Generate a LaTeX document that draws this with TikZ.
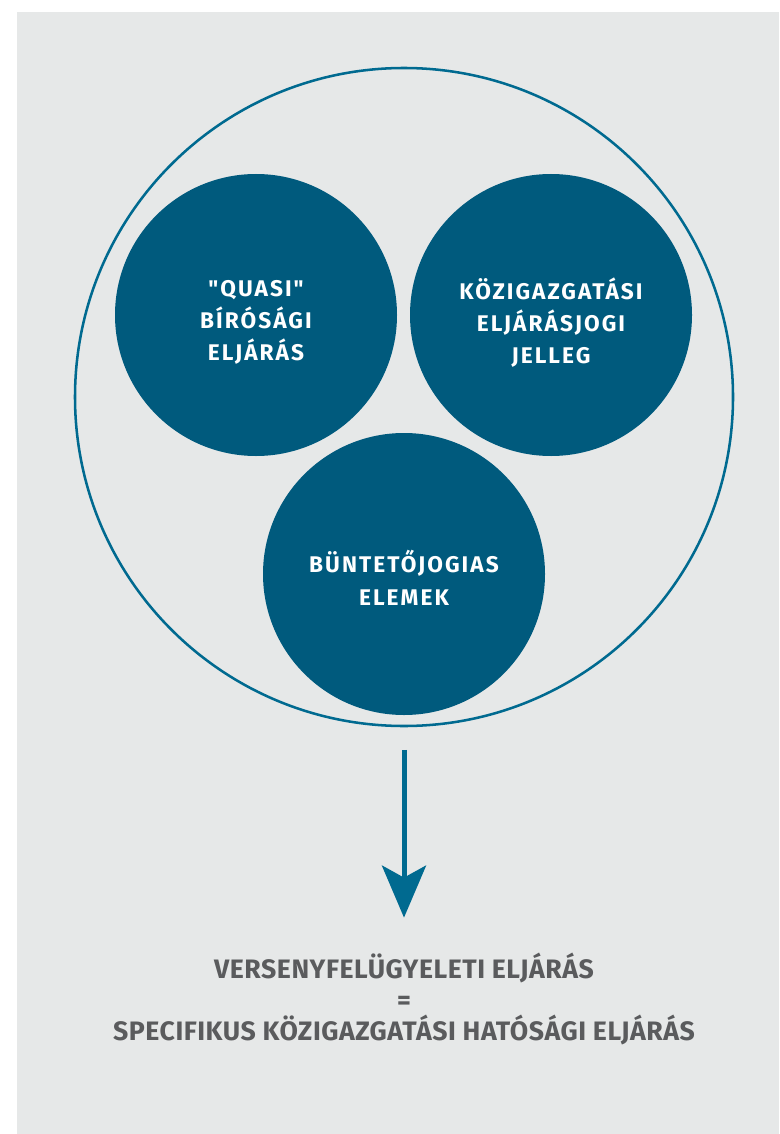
\documentclass[tikz,border=0pt]{standalone}
\usepackage{fontspec}
\setmainfont{Fira Sans}
\newfontfamily\partfont{Fira Sans}[LetterSpace=9]
\newfontfamily\sumfont{Fira Sans}[LetterSpace=2]
\usetikzlibrary{positioning, arrows.meta}
\definecolor{bgGrey}{HTML}{E6E8E8}
\definecolor{petrol}{HTML}{005A7D}
\definecolor{petrolLine}{HTML}{006A90}
\definecolor{txtGrey}{HTML}{5A5B5D}
\newcommand{\drop}[2][5.6pt]{\raisebox{-#1}[\height][\depth]{#2}} % lowers a line, keeps its size
\tikzset{
part/.style={circle, fill=petrol, minimum size=211.5pt, inner sep=0pt, text=white, align=center, font=\partfont\fontsize{17}{24}\selectfont\bfseries}, % the three parts
sum/.style={text=txtGrey, align=center, inner sep=0pt, font=\sumfont\fontsize{20}{23.6}\selectfont\bfseries}, % the result below
}
\begin{document}
\begin{tikzpicture}[x=0.75pt, y=-0.75pt]
    \useasboundingbox (0,0) rectangle (779,1134);
    \fill[bgGrey] (17,12) rectangle (779,1134);
    \node[draw=petrolLine, line width=1.9pt, circle, minimum size=493.5pt] at (404,397) (whole) {};
    \node[part] at (256,315) (quasi) {\drop{"QUASI"}\\\drop{BÍRÓSÁGI}\\\drop{ELJÁRÁS}};
    \node[part] at (551,315) (admin) {\drop{KÖZIGAZGATÁSI}\\\drop{ELJÁRÁSJOGI}\\\drop{JELLEG}};
    \node[part, font=\partfont\fontsize{17}{25}\selectfont\bfseries] at (404,574) (penal) {\drop[3pt]{BÜNTETŐJOGIAS}\\\drop[3pt]{ELEMEK}};
    \node[sum] at (404,999) (result) {VERSENYFELÜGYELETI ELJÁRÁS\\=\\SPECIFIKUS KÖZIGAZGATÁSI HATÓSÁGI ELJÁRÁS};
    \draw[petrolLine, line width=3.75pt, -{Stealth[length=39pt, width=33pt, inset=9pt]}, shorten <=17pt, shorten >=26pt]
    (whole.south) -- (result.north);
\end{tikzpicture}
\end{document}
